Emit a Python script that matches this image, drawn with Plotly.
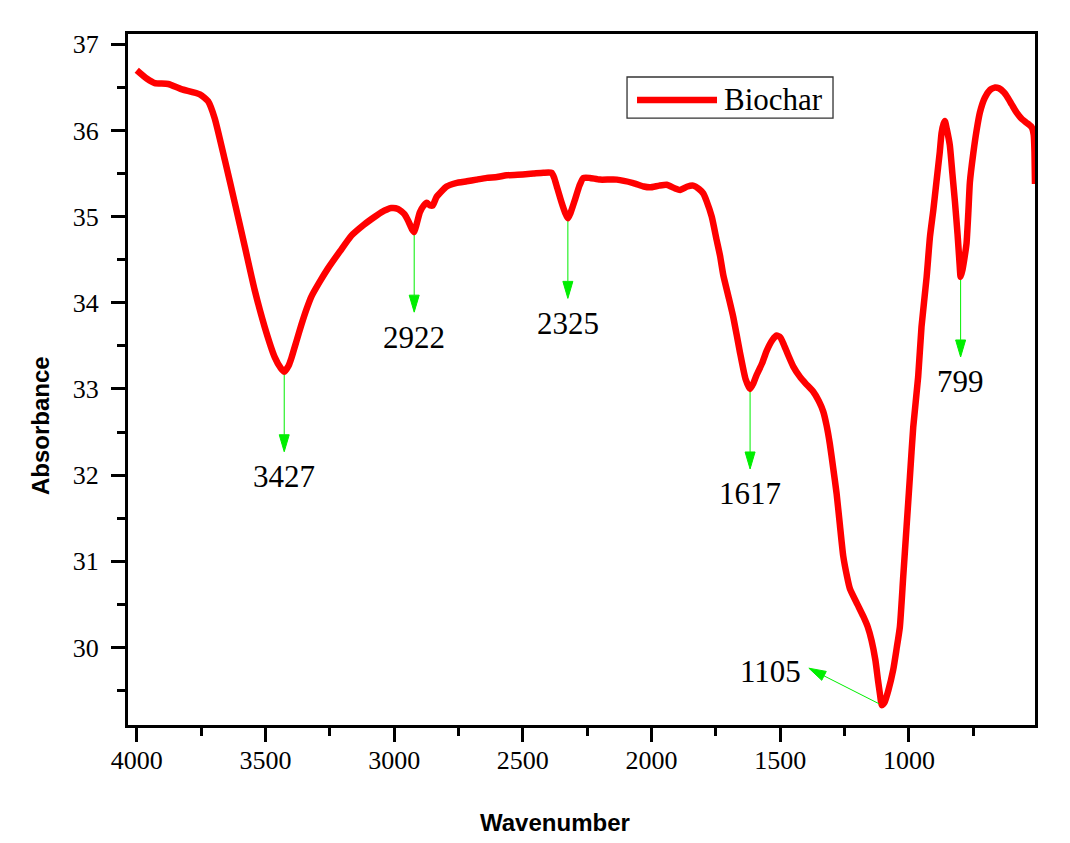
import math
import numpy as np
import plotly.graph_objects as go

# FTIR spectrum of biochar (wavenumber in cm^-1, absorbance)
wavenumber = [
    4000, 3960, 3930, 3878, 3827, 3755, 3723, 3697, 3658, 3619, 3580, 3542,
    3503, 3464, 3440, 3427, 3410, 3399, 3380, 3361, 3340, 3322, 3290, 3257,
    3210, 3166, 3120, 3089, 3050, 3011, 2985, 2960, 2945, 2930, 2922, 2912,
    2900, 2885, 2873, 2860, 2850, 2835, 2796, 2760, 2718, 2680, 2640, 2600,
    2563, 2500, 2459, 2420, 2388, 2378, 2368, 2349, 2335, 2325, 2315, 2297,
    2280, 2265, 2240, 2200, 2135, 2071, 2030, 2006, 1970, 1941, 1910, 1889,
    1860, 1838, 1815, 1799, 1786, 1766, 1747, 1734, 1721, 1700, 1682, 1656,
    1635, 1617, 1605, 1592, 1570, 1553, 1530, 1514, 1500, 1488, 1470, 1449,
    1423, 1400, 1372, 1350, 1333, 1320, 1307, 1294, 1281, 1268, 1255, 1240,
    1229, 1200, 1177, 1160, 1145, 1130, 1120, 1112, 1105, 1095, 1080, 1061,
    1048, 1035, 1022, 1009, 996, 983, 964, 951, 931, 918, 905, 893,
    880, 873, 865, 860, 853, 841, 831, 821, 811, 803, 799, 792,
    784, 776, 769, 763, 750, 737, 724, 705, 685, 665, 650, 630,
    620, 600, 582, 560, 543, 530, 523, 515, 512, 510,
]
absorbance = [
    36.70, 36.60, 36.55, 36.54, 36.48, 36.42, 36.34, 36.14, 35.66, 35.16, 34.65, 34.15,
    33.72, 33.37, 33.24, 33.20, 33.27, 33.36, 33.55, 33.74, 33.93, 34.07, 34.24, 34.40,
    34.60, 34.78, 34.90, 34.97, 35.05, 35.10, 35.09, 35.03, 34.95, 34.85, 34.82, 34.92,
    35.05, 35.13, 35.16, 35.13, 35.13, 35.23, 35.35, 35.39, 35.41, 35.43, 35.45, 35.46,
    35.48, 35.49, 35.50, 35.51, 35.51, 35.45, 35.35, 35.16, 35.04, 34.98, 35.04, 35.20,
    35.36, 35.45, 35.45, 35.43, 35.43, 35.39, 35.35, 35.34, 35.36, 35.37, 35.33, 35.31,
    35.35, 35.36, 35.32, 35.27, 35.18, 35.00, 34.73, 34.55, 34.32, 34.06, 33.83, 33.42,
    33.12, 33.00, 33.06, 33.16, 33.30, 33.44, 33.57, 33.62, 33.60, 33.53, 33.40, 33.26,
    33.14, 33.06, 32.97, 32.86, 32.74, 32.58, 32.36, 32.08, 31.79, 31.42, 31.06, 30.82,
    30.68, 30.50, 30.36, 30.24, 30.08, 29.85, 29.62, 29.45, 29.33, 29.36, 29.50, 29.74,
    29.98, 30.24, 30.82, 31.40, 31.98, 32.56, 33.14, 33.72, 34.30, 34.77, 35.08, 35.40,
    35.75, 35.97, 36.08, 36.11, 36.02, 35.83, 35.50, 35.17, 34.80, 34.45, 34.30, 34.38,
    34.52, 34.69, 35.05, 35.40, 35.73, 36.00, 36.21, 36.38, 36.47, 36.50, 36.49, 36.44,
    36.40, 36.30, 36.21, 36.13, 36.09, 36.06, 36.04, 35.95, 35.75, 35.38,
]

# Assigned band positions (cm^-1)
peak_positions = [3427, 2922, 2325, 1617, 1105, 799]
peak_labels = ["3427", "2922", "2325", "1617", "1105", "799"]

# Axis tick values and their labels
x_ticks = [4000, 3500, 3000, 2500, 2000, 1500, 1000]
y_ticks = [30, 31, 32, 33, 34, 35, 36, 37]

SERIF = "Liberation Serif, Times New Roman, serif"
SANS = "Liberation Sans, Arial, sans-serif"
GREEN = "#00ee00"

fig = go.Figure()
fig.add_trace(go.Scatter(
    x=wavenumber, y=absorbance, mode="lines", name="Biochar",
    line=dict(color="#ff0000", width=6.5, shape="spline", smoothing=0.5),
    showlegend=False,
))

wn_asc = np.array(wavenumber[::-1], dtype=float)
ab_asc = np.array(absorbance[::-1], dtype=float)

shapes = []
annotations = []
head_len, head_half = 17, 5
for pos, text in zip(peak_positions, peak_labels):
    y_at = float(np.interp(pos, wn_asc, ab_asc))
    if text == "1105":
        # diagonal arrow pointing up-left to the label
        tip = (-73.0, 37.0)
        lab = dict(xshift=-111, yshift=34)
    else:
        tip = (0.0, -80.0)
        lab = dict(xshift=0, yshift=-105)
    length = math.hypot(*tip)
    ux, uy = tip[0] / length, tip[1] / length
    bx, by = tip[0] - head_len * ux, tip[1] - head_len * uy
    px, py = -uy * head_half, ux * head_half
    sx, sy = 3 * ux, 3 * uy
    path = (f"M{sx:.2f},{sy:.2f} L{bx:.2f},{by:.2f} "
            f"M{bx + px:.2f},{by + py:.2f} L{bx - px:.2f},{by - py:.2f} "
            f"L{tip[0]:.2f},{tip[1]:.2f} Z")
    shapes.append(dict(
        type="path", path=path, xref="x", yref="y",
        xsizemode="pixel", ysizemode="pixel", xanchor=pos, yanchor=y_at,
        line=dict(color=GREEN, width=1), fillcolor=GREEN, layer="above",
    ))
    annotations.append(dict(
        x=pos, y=y_at, xref="x", yref="y", text=text, showarrow=False,
        xanchor="center", yanchor="middle",
        font=dict(family=SERIF, size=31, color="black"), **lab,
    ))

# Legend box
shapes.append(dict(type="rect", xref="paper", yref="paper",
                   x0=0.5502, x1=0.7773, y0=0.8784, y1=0.9378,
                   line=dict(color="#333333", width=1.3), fillcolor="white",
                   layer="above"))
shapes.append(dict(type="line", xref="paper", yref="paper",
                   x0=0.5612, x1=0.6494, y0=0.9045, y1=0.9045,
                   line=dict(color="#ff0000", width=6.5), layer="above"))
annotations.append(dict(x=0.6549, y=0.9045, xref="paper", yref="paper",
                        text="Biochar", showarrow=False, xanchor="left",
                        yanchor="middle",
                        font=dict(family=SERIF, size=31, color="black")))

# Axis titles
annotations.append(dict(x=0.4708, y=-0.1404, xref="paper", yref="paper",
                        text="<b>Wavenumber</b>", showarrow=False,
                        xanchor="center", yanchor="middle",
                        font=dict(family=SANS, size=24, color="black")))
annotations.append(dict(x=-0.097, y=0.4327, xref="paper", yref="paper",
                        text="<b>Absorbance</b>", showarrow=False,
                        textangle=-90, xanchor="center", yanchor="middle",
                        font=dict(family=SANS, size=24, color="black")))


def axis_style(tickvals, minor_step, rng, standoff):
    return dict(
        range=rng, tickmode="array", tickvals=tickvals,
        ticktext=[str(v) for v in tickvals],
        showline=True, linewidth=3, linecolor="black", mirror=True,
        ticks="outside", tickwidth=3, ticklen=14, tickcolor="black",
        showgrid=False, zeroline=False,
        tickfont=dict(family=SERIF, size=26, color="black"),
        ticklabelstandoff=standoff,
        minor=dict(tickmode="linear", tick0=0, dtick=minor_step,
                   ticks="outside", ticklen=8, tickwidth=3,
                   tickcolor="black", showgrid=False),
    )


fig.update_layout(
    width=1070, height=843,
    margin=dict(l=128, r=35, t=34, b=118),
    paper_bgcolor="white", plot_bgcolor="white",
    font=dict(family=SERIF, color="black"),
    xaxis=axis_style(x_ticks, 250, [4034, 510], -4),
    yaxis=axis_style(y_ticks, 0.5, [29.1, 37.12], 7),
    shapes=shapes,
    annotations=annotations,
)

fig.write_html("out.html")
